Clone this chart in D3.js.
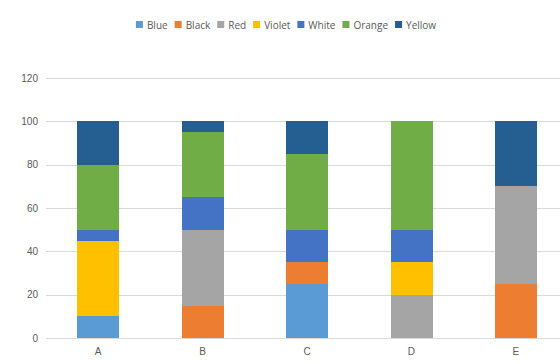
<!DOCTYPE html>
<html>
<head>
<meta charset="utf-8">
<script src="https://cdn.jsdelivr.net/npm/d3@7"></script>
<style>
  body { margin: 0; background: #fff; }
  svg { display: block; font-family: "Open Sans", "DejaVu Sans", sans-serif; }
  .axis text { fill: #595959; font-size: 10px; }
</style>
</head>
<body>
<div id="chart"></div>
<script>
// categories and stacked series (percent shares)
var categories = ["A", "B", "C", "D", "E"];
var seriesNames = ["Blue", "Black", "Red", "Violet", "White", "Orange", "Yellow"];
var blue   = [10, 0, 25, 0, 0];
var black  = [0, 15, 10, 0, 25];
var red    = [0, 35, 0, 20, 45];
var violet = [35, 0, 0, 15, 0];
var white  = [5, 15, 15, 15, 0];
var orange = [30, 30, 35, 50, 0];
var yellow = [20, 5, 15, 0, 30];
var yTicks = [0, 20, 40, 60, 80, 100, 120];

var seriesValues = [blue, black, red, violet, white, orange, yellow];
var colors = ["#5b9bd5", "#ed7d31", "#a5a5a5", "#ffc000", "#4472c4", "#70ad47", "#255e91"];

var width = 560, height = 364;
var margin = {top: 78, left: 46, bottom: 26};

// build rows for d3.stack
var rows = categories.map(function(c, i) {
  var r = {cat: c};
  seriesNames.forEach(function(s, j) { r[s] = seriesValues[j][i]; });
  return r;
});
var stacked = d3.stack().keys(seriesNames)(rows);

// plot area runs a bit past the right edge (chart is cropped)
var x = d3.scaleBand()
  .domain(categories)
  .range([margin.left, 568])
  .paddingInner(0.6)
  .paddingOuter(0.3);

var y = d3.scaleLinear()
  .domain([0, 120])
  .range([height - margin.bottom, margin.top]);

var color = d3.scaleOrdinal().domain(seriesNames).range(colors);

var svg = d3.select("#chart").append("svg")
  .attr("width", width)
  .attr("height", height);

// gridlines
svg.append("g")
  .selectAll("line")
  .data(yTicks)
  .enter().append("line")
  .attr("x1", margin.left)
  .attr("x2", 568)
  .attr("y1", function(d) { return Math.round(y(d)) + 0.5; })
  .attr("y2", function(d) { return Math.round(y(d)) + 0.5; })
  .attr("stroke", "#d9d9d9")
  .attr("stroke-width", 1);

// y axis labels
var yAxis = svg.append("g")
  .attr("class", "axis")
  .attr("transform", "translate(" + (margin.left - 8) + ",0)")
  .call(d3.axisLeft(y).tickValues(yTicks).tickSize(0).tickPadding(0));
yAxis.select(".domain").remove();

// bars (edges snapped to whole pixels)
svg.append("g")
  .attr("shape-rendering", "crispEdges")
  .selectAll("g")
  .data(stacked)
  .enter().append("g")
  .attr("fill", function(d) { return color(d.key); })
  .selectAll("rect")
  .data(function(d) { return d; })
  .enter().append("rect")
  .attr("x", function(d) { return Math.round(x(d.data.cat)); })
  .attr("width", Math.round(x.bandwidth()))
  .attr("y", function(d) { return Math.round(y(d[1])); })
  .attr("height", function(d) { return Math.round(y(d[0])) - Math.round(y(d[1])); });

// x axis labels
var xAxis = svg.append("g")
  .attr("class", "axis")
  .attr("transform", "translate(0," + (height - margin.bottom) + ")")
  .call(d3.axisBottom(x).tickSize(0).tickPadding(10));
xAxis.select(".domain").remove();

// legend, centred above the plot
var legend = svg.append("g").attr("transform", "translate(0,25)");
var items = legend.selectAll("g")
  .data(seriesNames)
  .enter().append("g");
items.append("rect")
  .attr("width", 7)
  .attr("height", 7)
  .attr("y", -4)
  .attr("fill", function(d) { return color(d); });
items.append("text")
  .attr("x", 11)
  .attr("dy", "0.35em")
  .attr("fill", "#595959")
  .style("font-size", "10px")
  .text(function(d) { return d; });

var pos = 0;
var offsets = [];
items.each(function() {
  offsets.push(pos);
  var w = d3.select(this).select("text").node().getComputedTextLength();
  pos += 11 + w + 7;
});
var total = pos - 7;
var start = 286 - total / 2;
items.attr("transform", function(d, i) { return "translate(" + (start + offsets[i]) + ",0)"; });
</script>
</body>
</html>
